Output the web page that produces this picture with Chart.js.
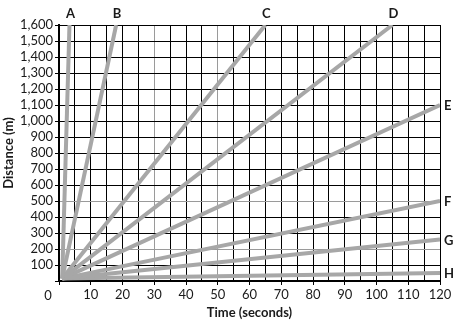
<!DOCTYPE html>
<html>
<head>
<meta charset="utf-8">
<script src="https://cdn.jsdelivr.net/npm/chart.js@4"></script>
<style>
  html, body { margin: 0; padding: 0; background: #fff; }
  #wrap { width: 457px; height: 325px; }
</style>
</head>
<body>
<div id="wrap"><canvas id="chart"></canvas></div>
<script>
// Lines A-H, all leaving from near the origin
const lineNames = ['A', 'B', 'C', 'D', 'E', 'F', 'G', 'H'];
const startTime = 1;
const startDist = 15;
const endTimes = [3.3, 18, 65, 105, 120, 120, 120, 120];
const endDists = [1600, 1600, 1600, 1600, 1100, 500, 260, 50];

// gridlines that show up grey in the picture
const greyTimes = [30, 50];
const greyDists = [200, 500];

const FONT = 'Lato, "Open Sans", sans-serif';
const lineGrey = '#a7a7a7';

const datasets = lineNames.map((name, i) => ({
    label: name,
    data: [{x: startTime, y: startDist}, {x: endTimes[i], y: endDists[i]}],
    borderColor: lineGrey,
    borderWidth: 4,
    pointRadius: 0,
    fill: false,
    tension: 0
}));

// draws the A-H tags and the corner "0"
const tagPlugin = {
    id: 'tags',
    afterDraw(chart) {
        const ctx = chart.ctx;
        const xs = chart.scales.x, ys = chart.scales.y;
        ctx.save();
        ctx.fillStyle = '#1a1a1a';
        ctx.font = 'bold 13px ' + FONT;
        lineNames.forEach((name, i) => {
            const px = xs.getPixelForValue(endTimes[i]);
            const py = ys.getPixelForValue(endDists[i]);
            ctx.textBaseline = 'middle';
            if (endDists[i] >= ys.max) {
                ctx.textAlign = 'center';
                ctx.fillText(name, px + 1, chart.chartArea.top - 11);
            } else {
                ctx.textAlign = 'left';
                ctx.fillText(name, chart.chartArea.right + 4, py + 1);
            }
        });
        ctx.font = '13px ' + FONT;
        ctx.textAlign = 'center';
        ctx.textBaseline = 'middle';
        ctx.fillText('0', xs.left - 11, chart.chartArea.bottom + 15);
        ctx.restore();
    }
};

new Chart(document.getElementById('chart'), {
    type: 'line',
    data: { datasets: datasets },
    plugins: [tagPlugin],
    options: {
        responsive: true,
        maintainAspectRatio: false,
        animation: false,
        layout: { padding: { top: 25, right: 17, left: 0, bottom: 0 } },
        plugins: {
            legend: { display: false },
            tooltip: { enabled: false }
        },
        scales: {
            x: {
                type: 'linear',
                min: 0,
                max: 120,
                afterFit: (scale) => { scale.height = 44; },
                ticks: {
                    stepSize: 5,
                    autoSkip: false,
                    maxRotation: 0,
                    padding: 2,
                    color: '#1a1a1a',
                    font: { family: FONT, size: 13 },
                    callback: (v) => (v % 10 === 0 && v !== 0) ? String(v) : ''
                },
                grid: {
                    color: (c) => greyTimes.includes(c.tick && c.tick.value) ? '#9a9a9a' : '#000',
                    lineWidth: 1,
                    tickLength: 4,
                    tickColor: (c) => (c.tick && c.tick.value % 10 === 0) ? '#000' : 'rgba(0,0,0,0)'
                },
                border: { color: '#000', width: 2 },
                title: {
                    display: true,
                    text: 'Time (seconds)',
                    color: '#1a1a1a',
                    font: { family: FONT, size: 13, weight: 'bold' },
                    padding: { top: 0, bottom: 4 }
                }
            },
            y: {
                min: 0,
                max: 1600,
                afterFit: (scale) => { scale.width = 59; },
                ticks: {
                    stepSize: 100,
                    autoSkip: false,
                    padding: 2,
                    color: '#1a1a1a',
                    font: { family: FONT, size: 13 },
                    callback: (v) => v === 0 ? '' : v.toLocaleString('en-US')
                },
                grid: {
                    color: (c) => greyDists.includes(c.tick && c.tick.value) ? '#9a9a9a' : '#000',
                    lineWidth: 1,
                    tickLength: 4,
                    tickColor: '#000'
                },
                border: { color: '#000', width: 2 },
                title: {
                    display: true,
                    text: 'Distance (m)',
                    color: '#1a1a1a',
                    font: { family: FONT, size: 13, weight: 'bold' },
                    padding: { top: 1, bottom: 0 }
                }
            }
        }
    }
});
</script>
</body>
</html>
